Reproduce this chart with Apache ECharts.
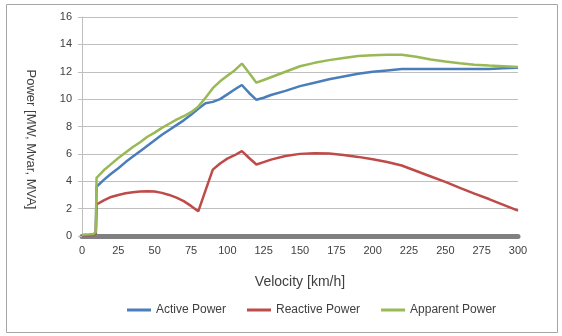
<!DOCTYPE html>
<html>
<head>
<meta charset="utf-8" />
<title>Power vs velocity</title>
<style>
  html, body { margin: 0; padding: 0; background: #fff; }
  #chartBox { width: 562px; height: 336px; }
</style>
</head>
<body>
<div id="chartBox"></div>
<script src="https://cdn.jsdelivr.net/npm/echarts@6/dist/echarts.min.js"></script>
<script>
var velocity = [0, 5, 8, 9.5, 10, 15, 20, 25, 30, 35, 40, 45, 50, 55, 60, 65, 70, 75, 80, 85, 90, 95, 100, 105, 110, 115, 120, 125, 130, 140, 150, 160, 170, 180, 190, 200, 210, 220, 230, 240, 250, 260, 270, 280, 290, 300];
var activePower = [0.05, 0.05, 0.08, 0.2, 3.6, 4.1, 4.55, 4.95, 5.4, 5.8, 6.2, 6.6, 7.0, 7.4, 7.75, 8.1, 8.45, 8.85, 9.3, 9.7, 9.8, 10.0, 10.35, 10.7, 11.03, 10.45, 9.95, 10.1, 10.3, 10.6, 10.95, 11.2, 11.45, 11.65, 11.85, 12.0, 12.1, 12.2, 12.2, 12.2, 12.2, 12.2, 12.2, 12.2, 12.25, 12.3];
var reactivePower = [0.05, 0.05, 0.08, 0.2, 2.3, 2.6, 2.85, 3.0, 3.12, 3.2, 3.25, 3.27, 3.25, 3.15, 3.0, 2.8, 2.55, 2.2, 1.8, 3.33, 4.85, 5.3, 5.65, 5.9, 6.2, 5.7, 5.22, 5.4, 5.58, 5.85, 6.0, 6.05, 6.02, 5.92, 5.78, 5.6, 5.4, 5.15, 4.75, 4.35, 3.95, 3.52, 3.1, 2.7, 2.28, 1.85];
var apparentPower = [0.1, 0.12, 0.15, 0.3, 4.25, 4.8, 5.25, 5.7, 6.1, 6.5, 6.85, 7.25, 7.55, 7.9, 8.2, 8.5, 8.75, 9.05, 9.45, 10.1, 10.8, 11.3, 11.7, 12.1, 12.6, 11.9, 11.2, 11.4, 11.6, 12.0, 12.4, 12.65, 12.85, 13.0, 13.15, 13.2, 13.25, 13.25, 13.1, 12.9, 12.75, 12.62, 12.52, 12.45, 12.4, 12.35];
var seriesNames = ['Active Power', 'Reactive Power', 'Apparent Power'];
var seriesColors = ['#4a7ebb', '#be4b48', '#98b954'];

var fontName = 'Liberation Sans';
var textColor = '#404040';

function pairs(ys) {
  var out = [];
  for (var i = 0; i < velocity.length; i++) {
    out.push([velocity[i], ys[i]]);
  }
  return out;
}

function lineSeries(idx, ys) {
  return {
    name: seriesNames[idx],
    type: 'line',
    data: pairs(ys),
    showSymbol: false,
    symbol: 'none',
    lineStyle: { color: seriesColors[idx], width: 2.5 },
    itemStyle: { color: seriesColors[idx] },
    animation: false
  };
}

var myChart = echarts.init(document.getElementById('chartBox'));
var option = {
  animation: false,
  textStyle: { fontFamily: fontName },
  graphic: [{
    type: 'rect',
    shape: { x: 6.5, y: 4.5, width: 551, height: 328 },
    style: { fill: 'none', stroke: '#a6a6a6', lineWidth: 1 },
    silent: true
  }],
  grid: { left: 82, right: 44, top: 17, bottom: 100 },
  legend: {
    bottom: 15,
    left: 122,
    itemWidth: 24,
    itemHeight: 3,
    itemGap: 21,
    icon: 'rect',
    textStyle: { color: textColor, fontSize: 12, fontFamily: fontName },
    data: seriesNames
  },
  xAxis: {
    type: 'value',
    min: 0,
    max: 300,
    interval: 25,
    name: 'Velocity [km/h]',
    nameLocation: 'middle',
    nameGap: 39,
    nameTextStyle: { color: textColor, fontSize: 14, fontFamily: fontName },
    axisLine: { show: true, lineStyle: { color: '#808080', width: 5 } },
    axisTick: { show: false },
    splitLine: { show: false },
    axisLabel: { color: textColor, fontSize: 11, margin: 9, fontFamily: fontName }
  },
  yAxis: {
    type: 'value',
    min: 0,
    max: 16,
    interval: 2,
    name: 'Power [MW, Mvar, MVA]',
    nameLocation: 'middle',
    nameRotate: -90,
    nameGap: 45,
    nameTextStyle: { color: textColor, fontSize: 13, fontFamily: fontName, padding: [0, 0, 0, 26] },
    axisLine: { show: true, lineStyle: { color: '#bfbfbf', width: 1 } },
    axisTick: { show: true, length: 4, lineStyle: { color: '#bfbfbf' } },
    splitLine: { show: true, lineStyle: { color: '#bfbfbf', width: 1 } },
    axisLabel: { color: textColor, fontSize: 11, margin: 10, fontFamily: fontName }
  },
  series: [
    lineSeries(0, activePower),
    lineSeries(1, reactivePower),
    lineSeries(2, apparentPower)
  ]
};
myChart.setOption(option);
</script>
</body>
</html>
